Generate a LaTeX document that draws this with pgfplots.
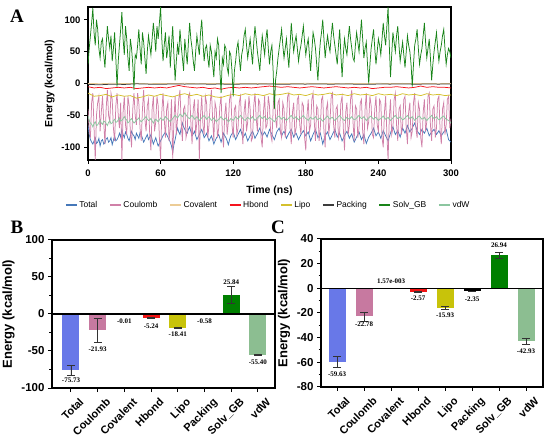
\documentclass[border=0pt]{standalone}
\usepackage{fontspec}
\setmainfont{Liberation Sans}
\setsansfont{Liberation Sans}
\newfontfamily\seriffont{Liberation Serif}
\usepackage{pgfplots}
\usepackage{pgfplotstable}
\pgfplotsset{compat=1.18}

\newcommand\fs[1]{\fontsize{#1bp}{#1bp}\selectfont}

\definecolor{cTotal}{RGB}{70,120,185}
\definecolor{cCoul}{RGB}{208,128,168}
\definecolor{cCov}{RGB}{236,204,150}
\definecolor{cHb}{RGB}{245,20,30}
\definecolor{cLipo}{RGB}{212,192,45}
\definecolor{cPack}{RGB}{60,60,60}
\definecolor{cSolv}{RGB}{25,132,25}
\definecolor{cvdW}{RGB}{140,198,160}

\definecolor{bTotal}{RGB}{104,120,232}
\definecolor{bCoul}{RGB}{199,121,160}
\definecolor{bHb}{RGB}{240,20,20}
\definecolor{bLipo}{RGB}{200,195,10}
\definecolor{bPack}{RGB}{0,0,0}
\definecolor{bSolv}{RGB}{0,128,0}
\definecolor{bvdW}{RGB}{140,190,145}

% time series, step 1 ns
\pgfplotstableread{
t total coul solv vdw
0 -65 -40 30 -50
1 -80 -70 55 -58
2 -88 -85 75 -62
3 -92 -30 95 -64
4 -95 -15 118 -68
5 -90 -70 80 -63
6 -85 -120 60 -60
7 -94 -50 100 -66
8 -92 -30 85 -65
9 -86 -20 55 -61
10 -98 -75 40 -58
11 -90 -45 65 -62
12 -88 -20 70 -64
13 -95 -60 45 -59
14 -93 -95 25 -60
15 -87 -40 60 -63
16 -85 -10 90 -66
17 -92 -50 70 -61
18 -90 -60 55 -58
19 -85 -15 75 -63
20 -96 -25 35 -62
21 -89 -70 55 -58
22 -82 -90 80 -56
23 -90 -35 40 -61
24 -88 -15 -5 -60
25 -84 -50 35 -57
26 -78 -70 60 -54
27 -84 -30 85 -59
28 -72 -120 112 -58
29 -80 -45 70 -55
30 -85 -20 45 -52
31 -76 -65 90 -56
32 -80 -80 70 -57
33 -86 -20 40 -62
34 -90 -35 20 -60
35 -82 -75 70 -57
36 -75 -100 55 -55
37 -80 -40 30 -59
38 -82 -15 -10 -62
39 -88 -50 45 -60
40 -78 -65 40 -58
41 -82 -15 60 -56
42 -86 -30 85 -54
43 -77 -70 55 -58
44 -80 -90 30 -60
45 -86 -40 80 -58
46 -92 -10 65 -56
47 -88 -55 40 -54
48 -84 -75 15 -52
49 -80 -35 50 -56
50 -88 -25 75 -58
51 -84 -80 60 -57
52 -80 -105 45 -55
53 -88 -40 70 -59
54 -95 -20 95 -62
55 -90 -75 75 -58
56 -85 -60 50 -56
57 -92 -20 90 -58
58 -98 -35 70 -60
59 -94 -85 95 -57
60 -90 -120 120 -54
61 -86 -45 70 -56
62 -82 -15 35 -58
63 -79 -55 60 -55
64 -76 -85 80 -52
65 -80 -40 40 -54
66 -84 -30 55 -56
67 -88 -90 75 -58
68 -92 -70 25 -60
69 -98 -25 60 -57
70 -108 -118 90 -55
71 -96 -60 45 -52
72 -88 -20 5 -50
73 -78 -80 35 -52
74 -70 -55 60 -54
75 -76 -25 45 -51
76 -80 -10 85 -48
77 -70 -60 60 -50
78 -62 -90 40 -52
79 -68 -40 20 -49
80 -72 -35 70 -46
81 -76 -85 50 -49
82 -78 -75 30 -52
83 -72 -20 65 -54
84 -68 -15 95 -55
85 -75 -60 70 -52
86 -82 -95 55 -50
87 -79 -40 35 -53
88 -75 -25 20 -56
89 -82 -80 50 -54
90 -88 -60 75 -52
91 -84 -25 60 -55
92 -80 -120 45 -58
93 -76 -50 80 -56
94 -72 -20 100 -54
95 -78 -65 65 -52
96 -85 -80 35 -50
97 -82 -20 55 -53
98 -78 -30 60 -56
99 -84 -85 40 -54
100 -90 -65 25 -52
101 -86 -30 60 -55
102 -82 -10 50 -58
103 -88 -55 30 -56
104 -95 -90 10 -54
105 -90 -30 50 -57
106 -86 -40 40 -60
107 -83 -85 70 -58
108 -80 -70 60 -56
109 -86 -35 20 -54
110 -92 -20 -15 -52
111 -85 -75 40 -55
112 -78 -100 30 -57
113 -82 -50 60 -56
114 -85 -30 55 -54
115 -90 -80 25 -57
116 -96 -60 15 -60
117 -88 -25 50 -58
118 -82 -15 45 -55
119 -79 -65 20 -56
120 -76 -85 -20 -58
121 -82 -40 20 -55
122 -88 -35 35 -52
123 -84 -80 55 -54
124 -80 -70 65 -56
125 -76 -30 40 -53
126 -72 -20 20 -50
127 -78 -65 45 -52
128 -85 -95 55 -55
129 -82 -45 75 -57
130 -78 -25 85 -58
131 -84 -75 60 -55
132 -90 -60 40 -53
133 -86 -20 55 -55
134 -82 -40 70 -56
135 -78 -90 50 -54
136 -75 -85 30 -52
137 -80 -35 65 -55
138 -86 -15 90 -58
139 -82 -55 70 -56
140 -79 -75 50 -54
141 -74 -25 35 -52
142 -70 -30 20 -50
143 -76 -85 50 -53
144 -82 -100 75 -55
145 -79 -45 60 -53
146 -76 -20 45 -52
147 -80 -70 70 -55
148 -84 -65 85 -57
149 -78 -20 55 -55
150 -72 -35 30 -53
151 -76 -80 50 -55
152 -80 -90 60 -56
153 -84 -40 20 -58
154 -88 -10 -40 -60
155 -82 -55 5 -57
156 -76 -70 20 -54
157 -73 -30 40 -52
158 -70 -25 55 -51
159 -76 -75 70 -54
160 -82 -85 85 -56
161 -78 -30 60 -54
162 -75 -40 40 -53
163 -80 -85 55 -56
164 -86 -60 70 -58
165 -82 -20 45 -56
166 -78 -15 25 -54
167 -75 -70 60 -52
168 -72 -95 95 -50
169 -78 -45 70 -53
170 -84 -30 50 -55
171 -80 -80 65 -54
172 -78 -70 75 -52
173 -83 -25 55 -55
174 -88 -20 35 -57
175 -84 -65 50 -55
176 -80 -80 60 -54
177 -77 -30 75 -52
178 -74 -35 90 -50
179 -78 -85 65 -53
180 -82 -105 45 -55
181 -79 -50 60 -56
182 -76 -25 70 -58
183 -83 -75 45 -55
184 -90 -65 20 -53
185 -85 -25 50 -55
186 -80 -15 80 -56
187 -76 -60 70 -54
188 -72 -90 55 -52
189 -78 -35 30 -55
190 -85 -40 5 -57
191 -82 -90 40 -55
192 -78 -70 65 -54
193 -86 -25 80 -57
194 -95 -20 100 -59
195 -88 -75 70 -57
196 -82 -100 40 -55
197 -79 -40 60 -53
198 -76 -30 75 -51
199 -82 -80 60 -54
200 -88 -60 50 -56
201 -84 -20 75 -54
202 -80 -15 95 -53
203 -76 -65 75 -56
204 -72 -85 60 -58
205 -78 -40 45 -56
206 -84 -35 30 -54
207 -81 -85 60 -52
208 -78 -75 85 -50
209 -84 -30 45 -53
210 -90 -20 10 -55
211 -86 -70 45 -57
212 -82 -105 70 -58
213 -78 -45 55 -55
214 -75 -30 45 -53
215 -80 -80 70 -55
216 -86 -65 90 -56
217 -82 -25 70 -54
218 -79 -10 55 -52
219 -86 -60 40 -55
220 -92 -90 35 -57
221 -88 -35 60 -56
222 -84 -40 80 -54
223 -80 -85 65 -52
224 -76 -70 50 -50
225 -82 -30 75 -53
226 -88 -25 100 -55
227 -84 -75 70 -54
228 -80 -95 40 -52
229 -87 -40 55 -55
230 -94 -15 65 -58
231 -89 -70 30 -56
232 -84 -60 0 -54
233 -81 -20 30 -52
234 -78 -35 55 -51
235 -74 -80 70 -54
236 -70 -85 85 -56
237 -76 -40 55 -54
238 -82 -20 30 -53
239 -79 -65 50 -56
240 -76 -75 70 -58
241 -81 -25 60 -56
242 -86 -30 45 -55
243 -80 -85 70 -53
244 -74 -100 95 -51
245 -78 -45 75 -54
246 -82 -20 60 -56
247 -86 -80 90 -55
248 -90 -120 120 -53
249 -84 -55 60 -56
250 -78 -25 10 -58
251 -72 -80 45 -56
252 -68 -70 80 -54
253 -74 -25 65 -52
254 -80 -15 50 -50
255 -77 -65 75 -53
256 -74 -90 90 -55
257 -79 -40 60 -54
258 -84 -35 35 -52
259 -77 -80 50 -55
260 -70 -65 65 -57
261 -74 -25 45 -56
262 -78 -20 25 -54
263 -72 -70 50 -52
264 -66 -95 75 -50
265 -71 -45 60 -53
266 -76 -30 50 -55
267 -73 -85 30 -54
268 -70 -75 -5 -52
269 -66 -30 30 -55
270 -62 -15 60 -58
271 -68 -70 70 -56
272 -74 -85 85 -54
273 -77 -30 55 -52
274 -80 -40 30 -51
275 -76 -85 45 -54
276 -72 -100 55 -56
277 -75 -45 75 -55
278 -78 -25 95 -53
279 -74 -75 65 -56
280 -70 -60 40 -58
281 -76 -20 55 -56
282 -82 -15 70 -54
283 -79 -65 40 -52
284 -76 -90 5 -50
285 -74 -40 30 -53
286 -72 -35 50 -55
287 -76 -85 65 -54
288 -80 -70 80 -52
289 -77 -25 55 -55
290 -74 -20 35 -57
291 -78 -75 50 -56
292 -82 -95 60 -54
293 -79 -40 75 -52
294 -76 -30 85 -51
295 -74 -80 55 -54
296 -72 -65 30 -56
297 -80 -25 45 -57
298 -88 -20 55 -58
299 -90 -70 50 -60
300 -92 -55 40 -62
}\tblmain

% step 5 ns
\pgfplotstableread{
t lipo hb
0 -15 -5
5 -20 -7
10 -19 -6
15 -17 -8
20 -21 -7
25 -18 -6
30 -20 -7
35 -19 -6
40 -23 -8
45 -21 -7
50 -18 -6
55 -20 -7
60 -17 -6
65 -19 -7
70 -21 -5
75 -18 -3
80 -16 -5
85 -19 -6
90 -17 -7
95 -20 -6
100 -18 -8
105 -21 -7
110 -22 -9
115 -19 -7
120 -17 -6
125 -19 -7
130 -16 -6
135 -18 -7
140 -17 -6
145 -19 -5
150 -16 -4
155 -18 -5
160 -17 -6
165 -15 -5
170 -18 -6
175 -17 -7
180 -19 -6
185 -16 -5
190 -18 -6
195 -17 -7
200 -15 -6
205 -18 -5
210 -17 -6
215 -19 -7
220 -16 -6
225 -18 -7
230 -17 -6
235 -19 -8
240 -16 -7
245 -18 -6
250 -17 -6
255 -19 -5
260 -16 -6
265 -18 -7
270 -17 -6
275 -19 -4
280 -16 -6
285 -18 -5
290 -17 -6
295 -19 -6
300 -18 -7
}\tblmid

% step 10 ns
\pgfplotstableread{
t cov pack
0 0.2 -1.5
10 -0.3 -2
20 0.4 -1
30 -0.2 -1.5
40 0.3 -0.5
50 -0.4 -1
60 0.2 -1.2
70 -0.1 -0.8
80 0.3 -1
90 -0.3 -0.6
100 0.2 -1.1
110 -0.2 -0.9
120 0.3 -1.3
130 -0.1 -0.7
140 0.2 -1
150 -0.3 -0.8
160 0.1 -1.2
170 -0.2 -0.9
180 0.3 -1
190 -0.1 -0.6
200 0.2 -1.1
210 -0.3 -0.8
220 0.1 -1
230 -0.2 -1.3
240 0.3 -0.9
250 -0.1 -1
260 0.2 -0.7
270 -0.2 -1.1
280 0.1 -0.9
290 -0.3 -1
300 0.2 -0.8
}\tblslow

\tikzset{vl/.style={font=\seriffont\bfseries\fs{7}, inner sep=0pt, anchor=center}}

\pgfplotsset{
  panel/.style={
    anchor=south west, scale only axis,
    tick align=outside, xtick pos=bottom, ytick pos=left,
    major tick length=4bp, minor tick length=2.5bp,
    tick style={black, line width=1bp},
    axis line style={line width=1.2bp},
    /pgf/number format/assume math mode=true,
  },
  barpanel/.style={
    panel,
    xtick={0,...,7},
    xticklabels={Total,Coulomb,Covalent,Hbond,Lipo,Packing,Solv\_GB,vdW},
    yticklabel style={font=\bfseries\fs{11.5}},
    xticklabel style={font=\bfseries\fs{11}, rotate=45, anchor=north east,
      inner sep=0pt, xshift=2bp, yshift=-9bp},
    ylabel={Energy (kcal/mol)},
    ylabel style={font=\bfseries\fs{13}},
    bar width=17bp,
  },
  eb/.style={error bars/.cd, y dir=both, y explicit,
    error bar style={line width=0.6bp, black!80},
    error mark options={rotate=90, mark size=4bp, line width=0.6bp, black!80}},
}

\begin{document}
\begin{tikzpicture}[x=1bp,y=1bp]

% ---------------- Panel A ----------------
\begin{axis}[panel,
  at={(88bp,282bp)}, width=363bp, height=153bp,
  xmin=0, xmax=300, ymin=-120, ymax=120,
  xtick={0,60,120,180,240,300}, ytick={-100,-50,0,50,100},
  tick label style={font=\bfseries\fs{9.5}},
  xticklabel style={yshift=-2bp},
  label style={font=\bfseries\fs{10.5}},
  xlabel={Time (ns)}, ylabel={Energy (kcal/mol)},
  xlabel style={yshift=-3bp},
  legend columns=8,
  legend style={draw=none, fill=none, at={(0.497,-0.294)}, anchor=center,
    font=\fs{8.5}, nodes={inner sep=2bp},
    /tikz/every even column/.append style={column sep=10bp}},
  legend image code/.code={\draw[#1, line width=1.1bp] plot coordinates {(0bp,0bp) (11bp,0bp)};},
  every axis plot/.append style={line width=0.75bp, mark=none},
]
\addplot[cTotal] table[x=t, y=total] {\tblmain};
\addplot[cCoul] table[x=t, y=coul] {\tblmain};
\addplot[cCov] table[x=t, y=cov] {\tblslow};
\addplot[cHb] table[x=t, y=hb] {\tblmid};
\addplot[cLipo] table[x=t, y=lipo] {\tblmid};
\addplot[cPack] table[x=t, y=pack] {\tblslow};
\addplot[cSolv] table[x=t, y=solv] {\tblmain};
\addplot[cvdW] table[x=t, y=vdw] {\tblmain};
\legend{Total,Coulomb,Covalent,Hbond,Lipo,Packing,Solv\_GB,vdW}
\end{axis}

% ---------------- Panel B ----------------
\begin{axis}[barpanel,
  at={(52bp,54bp)}, width=223bp, height=148bp,
  xmin=-0.71, xmax=7.64, ymin=-100, ymax=100,
  ytick={-100,-50,0,50,100}, minor ytick={-75,-25,25,75},
]
\addplot[ybar, fill=bTotal, draw=none, eb] coordinates {(0,-75.73) +- (0,6.5)};
\addplot[ybar, fill=bCoul, draw=none, eb] coordinates {(1,-21.93) +- (0,16)};
\addplot[ybar, fill=gray, draw=none, eb] coordinates {(2,-0.01) +- (0,0)};
\addplot[ybar, fill=bHb, draw=none, eb] coordinates {(3,-5.24) +- (0,1)};
\addplot[ybar, fill=bLipo, draw=none, eb] coordinates {(4,-18.41) +- (0,0.7)};
\addplot[ybar, fill=bPack, draw=none, eb] coordinates {(5,-0.58) +- (0,0)};
\addplot[ybar, fill=bSolv, draw=none, eb] coordinates {(6,25.84) +- (0,11.7)};
\addplot[ybar, fill=bvdW, draw=none, eb] coordinates {(7,-55.40) +- (0,0.8)};
\addplot[black, line width=1.1bp, forget plot] coordinates {(-0.71,0) (7.64,0)};
\node[vl] at (axis cs:0,-89) {-75.73};
\node[vl] at (axis cs:1,-47) {-21.93};
\node[vl] at (axis cs:2,-10) {-0.01};
\node[vl] at (axis cs:3,-16) {-5.24};
\node[vl] at (axis cs:4,-27.5) {-18.41};
\node[vl] at (axis cs:5,-10) {-0.58};
\node[vl] at (axis cs:6,43) {25.84};
\node[vl] at (axis cs:7,-64.5) {-55.40};
\end{axis}

% ---------------- Panel C ----------------
\begin{axis}[barpanel,
  at={(321bp,55bp)}, width=222bp, height=148bp,
  xmin=-0.6, xmax=7.63, ymin=-80, ymax=40,
  ytick={-80,-60,-40,-20,0,20,40}, minor ytick={-70,-50,-30,-10,10,30},
]
\addplot[ybar, fill=bTotal, draw=none, eb] coordinates {(0,-59.63) +- (0,4.4)};
\addplot[ybar, fill=bCoul, draw=none, eb] coordinates {(1,-22.78) +- (0,3.7)};
\addplot[ybar, fill=gray, draw=none, eb] coordinates {(2,0.00157) +- (0,0)};
\addplot[ybar, fill=bHb, draw=none, eb] coordinates {(3,-2.57) +- (0,0.3)};
\addplot[ybar, fill=bLipo, draw=none, eb] coordinates {(4,-15.93) +- (0,1.1)};
\addplot[ybar, fill=bPack, draw=none, eb] coordinates {(5,-2.35) +- (0,0.3)};
\addplot[ybar, fill=bSolv, draw=none, eb] coordinates {(6,26.94) +- (0,2.5)};
\addplot[ybar, fill=bvdW, draw=none, eb] coordinates {(7,-42.93) +- (0,2.7)};
\addplot[black, line width=1.1bp, forget plot] coordinates {(-0.6,0) (7.63,0)};
\node[vl] at (axis cs:0,-69.4) {-59.63};
\node[vl] at (axis cs:1,-29.5) {-22.78};
\node[vl] at (axis cs:2,5.6) {1.57e-003};
\node[vl] at (axis cs:3,-8.3) {-2.57};
\node[vl] at (axis cs:4,-22) {-15.93};
\node[vl] at (axis cs:5,-8.5) {-2.35};
\node[vl] at (axis cs:6,34.7) {26.94};
\node[vl] at (axis cs:7,-51.3) {-42.93};
\end{axis}

% panel letters
\node[font=\seriffont\bfseries\fs{19}] at (17bp,426bp) {A};
\node[font=\seriffont\bfseries\fs{19}] at (17bp,215bp) {B};
\node[font=\seriffont\bfseries\fs{19}] at (278bp,215bp) {C};

\pgfresetboundingbox
\path[use as bounding box] (0bp,0bp) rectangle (550bp,442bp);
\end{tikzpicture}
\end{document}
